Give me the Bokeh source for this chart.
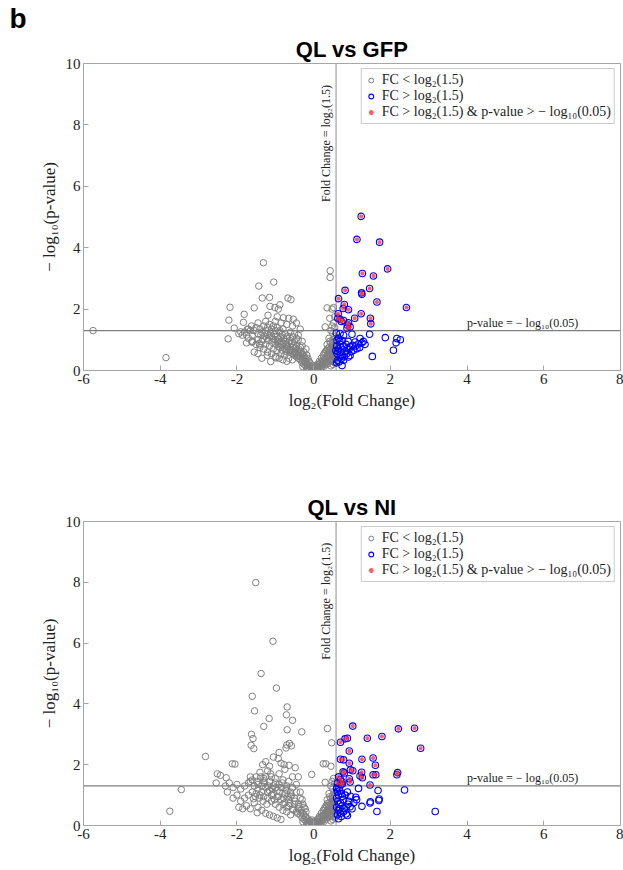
import numpy as np
from bokeh.plotting import figure
from bokeh.models import (Label, Title, Legend, LegendItem, Span, Range1d,
                          FixedTicker)
from bokeh.layouts import column
from bokeh.embed import file_html
from bokeh.resources import INLINE

FC_T = float(np.log2(1.5))
P_T = float(-np.log10(0.05))

x_ticks = [-6, -4, -2, 0, 2, 4, 6, 8]
y_ticks = [0, 2, 4, 6, 8, 10]
x_tick_labels = ["-6", "-4", "-2", "0", "2", "4", "6", "8"]

# ---------------- QL vs GFP ----------------
gfp_down = [
    (-5.75, 1.30), (-3.85, 0.42), (-1.31, 3.51), (-1.43, 2.75), (-1.04, 2.88), (-1.34, 2.36),
    (-1.15, 2.38), (-0.67, 2.36), (-0.59, 2.31), (-2.18, 2.06), (-1.55, 2.04), (-1.14, 2.09),
    (-1.01, 2.05), (-0.92, 2.00), (-0.88, 2.14), (-1.81, 1.83), (-1.19, 1.80), (-2.21, 1.64),
    (-0.79, 1.72), (-0.53, 1.67), (-1.83, 1.57), (-2.07, 1.38), (-1.73, 1.34), (-1.90, 1.26),
    (-1.86, 1.15), (-2.23, 1.03), (-1.60, 0.95), (-1.40, 0.83), (-1.21, 0.49), (-1.12, 0.29),
    (-0.98, 0.41), (-1.61, 0.92),
    (-0.30, 0.25), (-0.25, 0.20), (-0.20, 0.15), (-0.15, 0.10), (-0.10, 0.06), (-0.05, 0.03),
    (0.00, 0.01), (0.05, 0.03), (0.10, 0.08), (0.15, 0.12), (0.20, 0.16), (0.25, 0.22),
    (0.30, 0.26), (-0.12, 0.02), (0.02, 0.05), (-0.02, 0.08), (0.08, 0.02), (-0.08, 0.12),
    (0.12, 0.18), (-0.18, 0.05), (0.18, 0.06), (-0.22, 0.28), (0.22, 0.30), (-0.28, 0.12),
    (0.28, 0.14), (-0.04, 0.18), (0.04, 0.15),
    (-0.35, 0.35), (-0.40, 0.40), (-0.45, 0.45), (-0.50, 0.50), (-0.55, 0.55), (-0.60, 0.60),
    (-0.65, 0.62), (-0.70, 0.70), (-0.75, 0.72), (-0.80, 0.80), (-0.85, 0.85), (-0.90, 0.88),
    (-0.95, 0.95), (-1.00, 1.00), (-1.05, 1.02), (-1.10, 1.10), (-1.15, 1.12), (-1.20, 1.18),
    (-0.40, 0.60), (-0.45, 0.80), (-0.50, 0.95), (-0.55, 1.10), (-0.60, 1.25), (-0.65, 0.90),
    (-0.70, 1.05), (-0.75, 1.20), (-0.80, 1.35), (-0.85, 1.10), (-0.90, 1.25), (-0.95, 1.40),
    (-1.00, 1.30), (-1.05, 1.45), (-1.10, 1.35), (-1.15, 1.50), (-1.20, 1.40), (-1.25, 1.30),
    (-1.30, 1.45), (-1.35, 1.25), (-1.40, 1.35), (-1.45, 1.20), (-1.50, 1.40), (-1.55, 1.30),
    (-1.60, 1.15), (-1.65, 1.30), (-0.35, 0.75), (-0.30, 0.55), (-0.25, 0.45), (-0.60, 0.75),
    (-0.70, 0.85), (-0.85, 0.95), (-0.95, 1.10),
    (-0.55, 0.35), (-0.65, 0.40), (-0.75, 0.50), (-0.85, 0.55), (-0.95, 0.65), (-1.05, 0.70),
    (-1.15, 0.80), (-1.25, 0.85), (-1.35, 0.95), (-1.45, 1.00), (-1.30, 0.70), (-1.20, 0.60),
    (-1.10, 0.55), (-1.00, 0.45), (-0.90, 0.40), (-0.80, 0.35), (-0.70, 0.30), (-1.40, 0.75),
    (-1.50, 0.85), (-1.60, 0.95), (-1.70, 1.05), (-1.75, 0.90), (-1.55, 0.60), (-1.45, 0.55),
    (-1.35, 0.40),
    (-0.45, 1.55), (-0.55, 1.45), (-0.70, 1.50), (-0.85, 1.55), (-1.00, 1.60), (-1.25, 1.60),
    (-1.45, 1.55), (-0.65, 1.70), (-0.95, 1.75), (-0.35, 1.35), (-0.40, 1.15), (-0.30, 0.95),
    (-1.70, 1.35), (-1.80, 1.25), (-1.95, 1.20), (-1.75, 1.15), (-1.62, 1.45),
    (-0.20, 0.35), (-0.25, 0.60), (-0.15, 0.40), (-0.10, 0.25), (-0.30, 0.80), (-0.20, 0.70),
    (-0.40, 1.00), (-0.50, 1.20), (-0.45, 1.05), (-0.35, 0.55), (-0.28, 0.38), (-0.18, 0.50),
    (-0.12, 0.30), (-0.55, 0.75), (-0.50, 0.62), (-0.42, 0.50),
    (-0.05, 0.10), (-0.10, 0.15), (-0.15, 0.20), (-0.20, 0.25), (-0.25, 0.30), (-0.30, 0.32),
    (-0.35, 0.45), (-0.40, 0.48), (-0.45, 0.55), (-0.50, 0.58), (-0.58, 0.65), (-0.62, 0.68),
    (-0.68, 0.78), (-0.72, 0.62), (-0.78, 0.88), (-0.82, 0.66), (-0.88, 0.75), (-0.92, 1.02),
    (-0.98, 0.85), (-1.02, 1.18), (-1.08, 0.92), (-1.12, 1.25), (-1.18, 0.98), (-1.22, 1.05),
    (-1.28, 1.12), (-1.32, 1.02), (-1.38, 1.15), (-1.42, 0.88), (-0.22, 0.40), (-0.28, 0.50),
    (-0.33, 0.62), (-0.38, 0.68), (-0.48, 0.72), (-0.52, 0.82), (-0.58, 0.88), (-0.62, 0.98),
    (-0.68, 1.12), (-0.72, 0.95), (-0.78, 1.05), (-0.82, 1.18), (-0.88, 1.30), (-0.92, 0.78),
    (0.06, 0.08), (0.12, 0.10), (0.16, 0.22), (0.22, 0.12), (0.26, 0.28), (0.32, 0.35),
    (0.36, 0.22), (0.42, 0.28), (0.46, 0.32), (0.52, 0.28), (0.56, 0.38), (0.38, 0.58),
    (0.42, 0.45), (0.48, 0.62), (0.53, 0.78), (0.57, 0.88), (0.44, 0.70), (0.36, 0.70),
    (0.30, 0.40), (0.35, 0.50), (0.40, 0.55), (0.45, 0.60), (0.50, 0.70), (0.55, 0.80),
    (0.35, 0.30), (0.40, 0.35), (0.45, 0.40), (0.50, 0.45), (0.55, 0.50), (0.30, 0.60),
    (0.40, 0.75), (0.45, 0.90), (0.50, 1.00), (0.55, 1.10), (0.50, 1.20), (0.45, 1.30),
    (0.55, 1.40), (0.40, 1.05), (0.35, 0.85), (0.25, 0.50), (0.20, 0.40), (0.55, 0.25),
    (0.50, 0.20), (0.45, 0.15), (0.55, 0.60), (0.52, 1.55), (0.48, 1.45), (0.30, 1.42),
    (0.35, 2.04), (0.48, 2.00), (0.52, 2.05), (0.43, 3.25), (0.43, 3.03), (0.42, 1.70),
    (0.55, 1.75), (0.10, 0.20), (0.15, 0.30), (0.20, 0.25), (0.25, 0.35), (0.30, 0.20),
    (0.35, 0.45), (0.40, 0.65), (0.45, 0.50), (0.50, 0.55), (0.55, 0.70), (0.52, 0.35),
    (0.48, 0.80), (0.42, 0.95), (0.38, 0.40), (0.33, 0.65), (0.28, 0.55), (0.50, 0.90),
    (0.55, 0.95),
]

gfp_up = [
    (1.24, 5.02), (1.13, 4.27), (1.72, 4.18), (1.93, 3.31), (1.27, 3.16), (1.56, 3.08),
    (1.46, 2.67), (0.82, 2.61), (1.25, 2.53), (1.26, 2.48), (0.65, 2.34), (1.65, 2.23),
    (2.42, 2.05), (0.80, 2.15), (0.77, 2.02), (0.91, 1.98), (1.24, 1.85), (0.64, 1.85),
    (1.07, 1.70), (1.48, 1.70), (0.69, 1.67), (0.78, 1.63), (1.49, 1.52), (0.91, 1.55),
    (0.95, 1.42), (0.87, 1.38), (0.63, 1.70), (0.72, 1.60), (0.88, 1.48),
    (0.59, 1.22), (0.69, 1.20), (0.78, 1.15), (1.00, 1.18), (1.46, 1.18), (1.87, 1.07),
    (2.17, 1.04), (2.26, 1.00), (2.15, 0.90), (2.08, 0.66), (1.53, 0.46), (1.21, 1.04),
    (1.26, 0.90), (1.34, 0.85), (1.08, 0.93), (1.17, 0.87), (0.95, 0.77), (0.87, 0.71),
    (0.78, 0.77), (0.69, 0.85), (0.65, 0.71), (0.61, 0.55), (0.69, 0.44), (0.78, 0.33),
    (0.74, 0.16), (0.87, 0.55), (0.95, 0.49), (1.04, 0.66), (1.13, 0.71), (0.62, 0.33),
    (0.91, 0.44), (0.61, 0.98), (0.74, 0.98), (0.65, 1.05), (0.60, 0.80), (0.63, 0.62),
    (0.70, 0.60), (0.75, 0.50), (0.82, 0.62), (0.85, 0.85), (0.90, 0.95), (0.98, 0.62),
    (1.02, 0.82), (0.66, 0.28), (0.72, 0.38), (0.60, 0.25), (0.80, 0.45), (0.68, 0.95),
    (0.58, 0.65), (1.10, 0.80), (1.20, 0.75), (1.30, 0.95), (0.93, 0.70),
]

# ---------------- QL vs NI ----------------
ni_down = [
    (-1.51, 7.99), (-1.06, 6.06), (-1.37, 5.00), (-0.97, 4.52), (-1.60, 4.25), (-1.54, 3.77),
    (-0.69, 3.90), (-0.71, 3.64), (-0.55, 3.46), (-1.16, 3.52), (-1.30, 3.26), (-0.69, 3.15),
    (-0.31, 3.08), (-1.62, 3.00), (-1.58, 2.86), (-1.63, 2.64), (-1.56, 2.53), (-0.70, 2.65),
    (-0.63, 2.70), (-0.58, 2.62), (-0.72, 2.55), (-2.82, 2.27), (-2.12, 2.03), (-2.05, 2.02),
    (0.36, 3.19), (0.32, 2.03), (-3.45, 1.18), (-3.75, 0.47),
    (-2.51, 1.70), (-2.54, 1.40), (-2.43, 1.65), (-2.28, 1.57), (-2.25, 1.10), (-1.65, 1.60),
    (-1.65, 1.45), (-1.57, 0.88), (-1.47, 0.42), (-1.30, 1.47), (-1.33, 2.00), (-0.92, 2.20),
    (-0.90, 2.40), (-0.77, 2.00), (-0.64, 1.98), (-0.48, 1.90), (-0.40, 1.60), (-0.05, 1.68),
    (0.25, 2.03), (0.45, 1.95), (0.47, 2.72),
    (-0.30, 0.25), (-0.25, 0.20), (-0.20, 0.15), (-0.15, 0.10), (-0.10, 0.06), (-0.05, 0.03),
    (0.00, 0.01), (0.05, 0.03), (0.10, 0.08), (0.15, 0.12), (0.20, 0.16), (0.25, 0.22),
    (0.30, 0.26), (-0.12, 0.02), (0.02, 0.05), (-0.02, 0.08), (0.08, 0.02), (-0.08, 0.12),
    (0.12, 0.18), (-0.18, 0.05), (0.18, 0.06), (-0.22, 0.28), (0.22, 0.30), (-0.28, 0.12),
    (0.28, 0.14), (-0.04, 0.18), (0.04, 0.15),
    (-0.35, 0.35), (-0.45, 0.45), (-0.55, 0.55), (-0.65, 0.65), (-0.75, 0.75), (-0.85, 0.85),
    (-0.95, 0.95), (-1.05, 1.05), (-1.15, 1.15), (-1.25, 1.25), (-1.35, 1.30), (-1.45, 1.35),
    (-0.40, 0.70), (-0.50, 0.90), (-0.60, 1.10), (-0.70, 1.30), (-0.80, 1.50), (-0.90, 1.70),
    (-1.00, 1.40), (-1.10, 1.60), (-1.20, 1.80), (-1.30, 1.55), (-1.40, 1.75), (-1.50, 1.60),
    (-1.60, 1.50), (-1.70, 1.40), (-1.80, 1.30), (-1.90, 1.20), (-2.00, 1.35), (-2.10, 1.25),
    (-2.20, 1.40), (-2.30, 1.30), (-1.15, 1.95), (-1.25, 2.10), (-1.05, 2.25), (-0.85, 2.05),
    (-0.75, 1.85), (-0.55, 1.60), (-0.45, 1.35), (-0.35, 1.10), (-0.30, 0.85), (-0.25, 0.60),
    (-0.20, 0.45),
    (-0.60, 0.35), (-0.70, 0.45), (-0.80, 0.50), (-0.90, 0.60), (-1.00, 0.70), (-1.10, 0.80),
    (-1.20, 0.90), (-1.30, 0.95), (-1.40, 1.00), (-1.50, 1.05), (-1.60, 1.10), (-1.70, 1.00),
    (-1.80, 0.90), (-1.90, 0.80), (-1.75, 0.65), (-1.65, 0.55), (-1.55, 0.75), (-1.45, 0.60),
    (-1.35, 0.50), (-1.25, 0.40), (-1.15, 0.35), (-1.05, 0.30), (-0.95, 0.25), (-0.85, 0.20),
    (-2.00, 1.00), (-2.10, 0.90), (-1.95, 0.60), (-1.85, 0.55),
    (-0.65, 0.85), (-0.75, 1.05), (-0.85, 1.25), (-0.95, 1.15), (-1.05, 1.30), (-1.15, 1.45),
    (-1.25, 1.60), (-1.35, 1.10), (-1.45, 1.20), (-1.55, 1.30), (-0.50, 0.70), (-0.40, 0.55),
    (-0.30, 0.40), (-0.60, 0.95), (-0.70, 1.15), (-0.90, 1.35), (-1.00, 1.55), (-1.10, 1.00),
    (-1.20, 1.10), (-0.80, 0.70), (-0.70, 0.60),
    (-0.05, 0.10), (-0.10, 0.15), (-0.15, 0.22), (-0.20, 0.28), (-0.25, 0.35), (-0.32, 0.50),
    (-0.38, 0.62), (-0.42, 0.40), (-0.48, 0.80), (-0.52, 0.50), (-0.58, 1.00), (-0.62, 0.72),
    (-0.68, 0.95), (-0.72, 1.20), (-0.78, 0.90), (-0.82, 1.40), (-0.88, 1.10), (-0.92, 0.95),
    (-0.98, 1.25), (-1.02, 0.85), (-1.08, 1.20), (-1.12, 1.70), (-1.18, 1.30), (-1.22, 0.70),
    (-1.28, 1.40), (-1.32, 0.80), (-1.38, 1.60), (-1.42, 0.90), (-1.48, 1.45), (-1.52, 0.95),
    (-0.22, 0.55), (-0.28, 0.70), (-0.35, 0.90), (-0.45, 1.10), (-0.55, 1.25), (-0.65, 1.45),
    (0.06, 0.10), (0.12, 0.08), (0.16, 0.25), (0.22, 0.15), (0.26, 0.32), (0.32, 0.38),
    (0.36, 0.25), (0.42, 0.30), (0.46, 0.35), (0.52, 0.30), (0.56, 0.40), (0.38, 0.60),
    (0.42, 0.48), (0.48, 0.65), (0.53, 0.80), (0.57, 0.90), (0.44, 0.72), (0.36, 0.72),
    (0.30, 0.40), (0.35, 0.50), (0.40, 0.55), (0.45, 0.60), (0.50, 0.70), (0.55, 0.80),
    (0.35, 0.30), (0.40, 0.35), (0.45, 0.40), (0.50, 0.45), (0.55, 0.50), (0.30, 0.60),
    (0.40, 0.75), (0.45, 0.90), (0.50, 1.00), (0.55, 1.10), (0.50, 1.20), (0.45, 1.30),
    (0.55, 1.40), (0.40, 1.05), (0.35, 0.85), (0.25, 0.50), (0.20, 0.40), (0.55, 0.25),
    (0.50, 0.20), (0.45, 0.15), (0.55, 0.60), (0.52, 1.55), (0.48, 1.45), (0.30, 1.42),
    (0.10, 0.20), (0.15, 0.30), (0.20, 0.25), (0.25, 0.35), (0.30, 0.20), (0.35, 0.45),
    (0.40, 0.65), (0.45, 0.50), (0.50, 0.55), (0.55, 0.70), (0.52, 0.35), (0.48, 0.80),
    (0.42, 0.95), (0.38, 0.40), (0.33, 0.65), (0.28, 0.55), (0.50, 0.90), (0.55, 0.95),
]

ni_up = [
    (1.02, 3.27), (2.21, 3.18), (2.63, 3.20), (2.79, 2.54), (0.88, 2.87), (0.82, 2.85),
    (0.70, 2.74), (1.40, 2.87), (1.78, 2.93), (0.93, 2.45), (0.70, 2.18), (0.78, 2.16),
    (1.26, 2.18), (1.55, 2.22), (0.93, 2.05), (1.61, 1.98), (0.77, 1.77), (0.80, 1.73),
    (0.96, 1.83), (1.02, 1.80), (1.25, 1.75), (1.21, 1.63), (1.27, 1.57), (1.55, 1.67),
    (1.62, 1.67), (2.17, 1.67), (2.19, 1.74), (0.70, 1.51), (0.74, 1.44), (0.93, 1.54),
    (0.95, 1.43), (0.71, 1.35), (0.75, 1.36), (1.47, 1.33), (0.62, 1.40), (0.65, 1.60),
    (1.17, 1.22), (1.68, 1.15), (2.37, 1.17), (3.17, 0.46), (1.65, 0.46), (1.26, 0.63),
    (1.47, 0.74), (1.48, 0.78), (1.70, 0.82), (1.71, 0.87), (1.10, 0.93), (1.12, 0.85),
    (0.96, 0.96), (0.85, 0.38), (0.88, 0.33), (0.65, 0.22), (0.60, 1.20), (0.62, 1.10),
    (0.65, 1.00), (0.60, 0.90), (0.63, 0.80), (0.66, 0.70), (0.60, 0.60), (0.64, 0.50),
    (0.70, 0.40), (0.62, 0.35), (0.68, 1.15), (0.72, 1.05), (0.75, 0.95), (0.78, 0.85),
    (0.70, 0.75), (0.74, 0.65), (0.80, 0.55), (0.85, 0.60), (0.90, 0.70), (0.95, 0.62),
    (0.82, 1.00), (0.88, 1.10), (0.92, 0.80), (0.78, 0.45), (0.72, 0.30), (1.00, 0.55),
    (1.05, 0.75), (0.68, 0.55), (0.61, 1.25), (0.66, 1.22),
]

SERIF = "Liberation Serif"
SANS = "Liberation Sans"
AXIS_GREY = "#a6a6a6"


def make_fig(title, down, up, height, border_top, border_bottom, panel=None):
    p = figure(width=623, height=height, output_backend="svg", toolbar_location=None,
               x_range=Range1d(-6, 8), y_range=Range1d(0, 10),
               min_border_left=83, min_border_right=3,
               min_border_top=border_top, min_border_bottom=border_bottom)
    if panel is not None:
        p.title = Title(text=panel, align="left", text_font=SANS, text_font_size="28px",
                        text_font_style="bold", text_color="black", offset=-74,
                        standoff=0)
    p.add_layout(Title(text=title, align="center", text_font=SANS, text_font_size="22px",
                       text_font_style="bold", text_color="black", standoff=3), "above")
    p.grid.visible = False
    p.outline_line_color = AXIS_GREY
    p.background_fill_color = "white"
    p.border_fill_color = "white"

    for ax in (p.xaxis[0], p.yaxis[0]):
        ax.axis_line_color = AXIS_GREY
        ax.major_tick_line_color = AXIS_GREY
        ax.major_tick_in = 5
        ax.major_tick_out = 0
        ax.minor_tick_line_color = None
        ax.major_label_text_font = SERIF
        ax.major_label_text_font_size = "15px"
        ax.major_label_text_color = "#222222"
        ax.axis_label_text_font = SERIF
        ax.axis_label_text_font_size = "17px"
        ax.axis_label_text_font_style = "normal"
        ax.axis_label_text_color = "#222222"
        ax.major_label_standoff = 3
        ax.axis_label_standoff = 4
    p.xaxis.ticker = FixedTicker(ticks=x_ticks)
    p.yaxis.ticker = FixedTicker(ticks=y_ticks)
    p.xaxis.major_label_overrides = dict(zip(x_ticks, x_tick_labels))
    p.xaxis.axis_label = "log₂(Fold Change)"
    p.yaxis.axis_label = "− log₁₀(p-value)"
    p.yaxis.major_label_orientation = "horizontal"

    # threshold lines
    p.add_layout(Span(location=FC_T, dimension="height", line_color="#b3b3b3",
                      line_width=1.5, level="underlay"))
    p.add_layout(Span(location=P_T, dimension="width", line_color="#7f7f7f",
                      line_width=1.2, level="underlay"))
    p.add_layout(Label(x=FC_T, y=9.3, text="Fold Change = log₂(1.5)", angle=np.pi / 2,
                       text_align="right", text_baseline="bottom", x_offset=-3,
                       text_font=SERIF, text_font_size="12px", text_color="#222222"))
    p.add_layout(Label(x=4.0, y=P_T, text="p-value = − log₁₀(0.05)", text_align="left",
                       text_baseline="bottom", y_offset=1,
                       text_font=SERIF, text_font_size="12px", text_color="#222222"))

    dx = [a for a, b in down]
    dy = [b for a, b in down]
    ux = [a for a, b in up]
    uy = [b for a, b in up]
    sx = [a for a, b in up if b > P_T]
    sy = [b for a, b in up if b > P_T]

    r1 = p.scatter(dx, dy, marker="circle", size=6.5, fill_color=None,
                   line_color="#808080", line_width=1)
    r2 = p.scatter(ux, uy, marker="circle", size=6.5, fill_color=None,
                   line_color="#0000ff", line_width=1.1)
    r3 = p.scatter(sx, sy, marker="asterisk", size=4, line_color="#ff2a2a",
                   line_width=1.5, line_alpha=0.75)

    legend = Legend(items=[
        LegendItem(label="FC < log₂(1.5)", renderers=[r1]),
        LegendItem(label="FC > log₂(1.5)", renderers=[r2]),
        LegendItem(label="FC > log₂(1.5) & p-value > − log₁₀(0.05)", renderers=[r3]),
    ], location="top_right")
    legend.label_text_font = SERIF
    legend.label_text_font_size = "14px"
    legend.label_text_color = "#222222"
    legend.border_line_color = "#9a9a9a"
    legend.border_line_width = 1
    legend.background_fill_alpha = 1
    legend.padding = 3
    legend.spacing = 0
    legend.margin = 5
    legend.glyph_width = 12
    legend.glyph_height = 16
    legend.label_height = 16
    legend.label_standoff = 5
    p.add_layout(legend)
    return p


p1 = make_fig("QL vs GFP", gfp_down, gfp_up, height=450, border_top=63,
              border_bottom=80, panel="b")
p2 = make_fig("QL vs NI", ni_down, ni_up, height=420, border_top=71,
              border_bottom=45)

layout = column(p1, p2, spacing=0)
open("out.html", "w").write(file_html(layout, INLINE))
